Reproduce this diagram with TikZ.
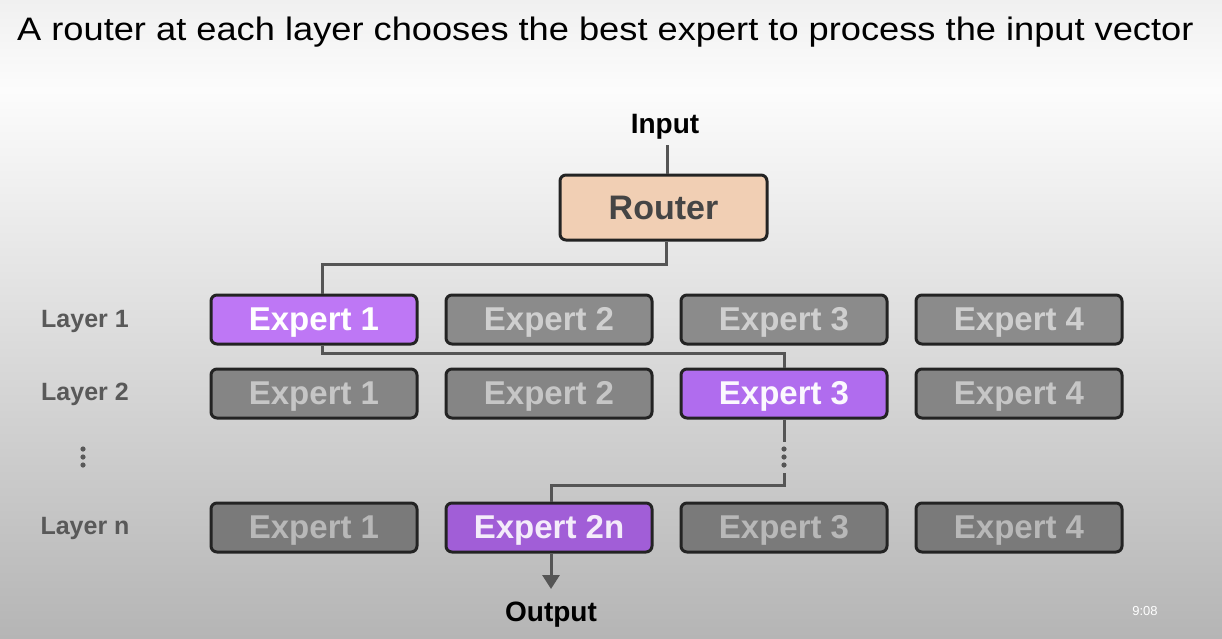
\documentclass[tikz,border=0pt]{standalone}
\usepackage{fontspec}
\setmainfont{Liberation Sans}
\usetikzlibrary{arrows.meta}
\definecolor{bgtop}{HTML}{F0F0F0}
\definecolor{bgmid}{HTML}{FCFCFC}
\definecolor{bgbot}{HTML}{B5B5B5}
\definecolor{edgec}{HTML}{232323}
\definecolor{connc}{HTML}{555555}
\definecolor{routerfill}{HTML}{F1CFB4}
\definecolor{routertext}{HTML}{454545}
\definecolor{purA}{HTML}{BE77F5}
\definecolor{purB}{HTML}{B06CEE}
\definecolor{purC}{HTML}{A15ED7}
\definecolor{grA}{HTML}{8B8B8B}
\definecolor{grB}{HTML}{858585}
\definecolor{grC}{HTML}{7A7A7A}
\definecolor{gtA}{HTML}{CFCFCF}
\definecolor{gtB}{HTML}{C6C6C6}
\definecolor{gtC}{HTML}{B8B8B8}
\definecolor{labc}{HTML}{595959}
\tikzset{
  box/.style={draw=edgec, line width=3pt, rounded corners=6pt, minimum width=206pt, minimum height=49pt, inner sep=0pt, text height=21pt, text depth=0pt, font=\fontsize{33}{33}\selectfont\bfseries},
  on1/.style={box, fill=purA, text=white},
  on2/.style={box, fill=purB, text=white!95!purB},
  on3/.style={box, fill=purC, text=white!88!purC},
  off1/.style={box, fill=grA, text=gtA},
  off2/.style={box, fill=grB, text=gtB},
  off3/.style={box, fill=grC, text=gtC},
  layerlab/.style={text=labc, font=\fontsize{25}{25}\selectfont\bfseries, inner sep=0pt, text height=18pt, text depth=0pt},
  conn/.style={draw=connc, line width=3pt},
  io/.style={font=\fontsize{28}{28}\selectfont\bfseries, text=black, inner sep=0pt, text height=20pt, text depth=0pt}
}
\begin{document}
\begin{tikzpicture}[x=1pt,y=-1pt]
\useasboundingbox (0,0) rectangle (1222,638);
\shade[top color=bgtop, bottom color=bgmid] (0,0) rectangle (1222,90);
\shade[top color=bgmid, bottom color=bgbot] (0,89.5) rectangle (1222,638);

\node[anchor=base west, inner sep=0pt, font=\fontsize{32.5}{32.5}\selectfont] (title) at (17,40) {\scalebox{1.115}[1]{A router at each layer chooses the best expert to process the input vector}};

\node[io] (input) at (665,123) {Input};
\node[draw=edgec, line width=3pt, rounded corners=6pt, fill=routerfill, text=routertext, minimum width=207pt, minimum height=65pt, inner sep=0pt, text height=24pt, text depth=0pt, font=\fontsize{34}{34}\selectfont\bfseries] (router) at (663.5,207.5) {Router};

\node[layerlab] (l1) at (85,318) {Layer 1};
\node[layerlab] (l2) at (85,391) {Layer 2};
\node[layerlab] (ln) at (85,525) {Layer n};
\foreach \yy in {449,457,465} \fill[labc] (83,\yy) circle (2.6pt);

\node[on1]  (e11) at (314,319.5) {Expert 1};
\node[off1] (e12) at (549,319.5) {Expert 2};
\node[off1] (e13) at (784,319.5) {Expert 3};
\node[off1] (e14) at (1019,319.5) {Expert 4};

\node[off2] (e21) at (314,393.5) {Expert 1};
\node[off2] (e22) at (549,393.5) {Expert 2};
\node[on2]  (e23) at (784,393.5) {Expert 3};
\node[off2] (e24) at (1019,393.5) {Expert 4};

\node[off3] (e31) at (314,527.5) {Expert 1};
\node[on3]  (e32) at (549,527.5) {Expert 2n};
\node[off3] (e33) at (784,527.5) {Expert 3};
\node[off3] (e34) at (1019,527.5) {Expert 4};

\node[io] (output) at (551,611) {Output};

\coordinate (inend) at (667,145);
\coordinate (c1) at (784,442);
\coordinate (c2) at (784,473);
\coordinate (tip) at (551,589);

\draw[conn] (inend) -- (inend |- router.north);
\draw[conn] ([xshift=3pt]router.south) -- ++(0,23) -| ([xshift=8pt]e11.north);
\draw[conn] ([xshift=8pt]e11.south) -- ++(0,8) -| (e23.north);
\draw[conn] (e23.south) -- (c1);
\foreach \yy in {449,457,465} \fill[connc] (784,\yy) circle (2.6pt);
\draw[conn] (c2) -- ++(0,12) -| ([xshift=2pt]e32.north);
\draw[conn, -{Triangle[width=17pt,length=14pt]}] ([xshift=2pt]e32.south) -- (tip);

\node[inner sep=0pt, text=white, font=\fontsize{13}{13}\selectfont] (time) at (1145,611) {9:08};
\end{tikzpicture}
\end{document}
